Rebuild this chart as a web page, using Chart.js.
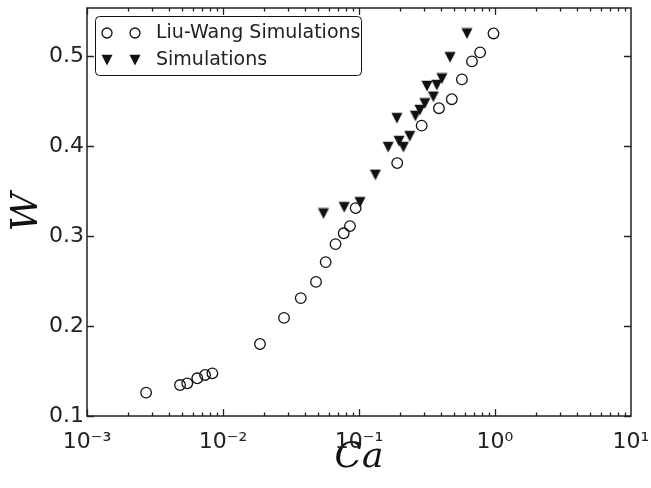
<!DOCTYPE html>
<html>
<head>
<meta charset="utf-8">
<script src="https://cdn.jsdelivr.net/npm/chart.js@4.4.0/dist/chart.umd.min.js"></script>
<style>
  html, body { margin: 0; padding: 0; background: #fff; }
</style>
</head>
<body>
<canvas id="myChart" width="651" height="488"></canvas>
<script>
// data
var liuWangCa = [0.00272, 0.00483, 0.00546, 0.00647, 0.00738, 0.00835, 0.0187, 0.0281, 0.0373, 0.0483, 0.0569, 0.0672, 0.0772, 0.0858, 0.0945, 0.191, 0.289, 0.387, 0.481, 0.571, 0.677, 0.777, 0.975];
var liuWangW  = [0.126, 0.1344, 0.1363, 0.1419, 0.1456, 0.1474, 0.180, 0.209, 0.231, 0.249, 0.271, 0.291, 0.303, 0.311, 0.331, 0.381, 0.4226, 0.442, 0.452, 0.474, 0.494, 0.504, 0.525];
var simCa = [0.0548, 0.0779, 0.1016, 0.132, 0.164, 0.197, 0.212, 0.236, 0.190, 0.260, 0.280, 0.305, 0.316, 0.352, 0.373, 0.407, 0.467, 0.622];
var simW  = [0.325, 0.332, 0.3375, 0.368, 0.3988, 0.4055, 0.3988, 0.411, 0.431, 0.4335, 0.440, 0.4474, 0.4667, 0.4548, 0.4678, 0.475, 0.4986, 0.525];

var xTicks = [0.001, 0.01, 0.1, 1, 10];
var xTickLabels = ['10\u207B\u00B3', '10\u207B\u00B2', '10\u207B\u00B9', '10\u2070', '10\u00B9'];
var yTicks = [0.1, 0.2, 0.3, 0.4, 0.5];
var yTickLabels = ['0.1', '0.2', '0.3', '0.4', '0.5'];

function toPoints(xs, ys) {
  return xs.map(function(v, i) { return { x: v, y: ys[i] }; });
}

// matplotlib-like 'v' marker
var triSize = 12;
var tri = document.createElement('canvas');
tri.width = triSize; tri.height = triSize;
var tctx = tri.getContext('2d');
tctx.fillStyle = '#111';
tctx.beginPath();
tctx.moveTo(0.5, 0.8);
tctx.lineTo(triSize - 0.5, 0.8);
tctx.lineTo(triSize / 2, triSize - 0.5);
tctx.closePath();
tctx.fill();

var frameTicks = {
  id: 'frameTicks',
  afterDatasetsDraw: function(chart) {
    var ctx = chart.ctx, a = chart.chartArea;
    var xs = chart.scales.x, ys = chart.scales.y;
    ctx.save();
    ctx.strokeStyle = '#222';
    ctx.lineWidth = 1.3;
    ctx.beginPath();
    for (var e = -3; e <= 0; e++) {
      for (var m = 1; m <= 9; m++) {
        var px = Math.round(xs.getPixelForValue(m * Math.pow(10, e))) + 0.5;
        var len = m === 1 ? 7 : 3.5;
        ctx.moveTo(px, a.bottom); ctx.lineTo(px, a.bottom - len);
        ctx.moveTo(px, a.top); ctx.lineTo(px, a.top + len);
      }
    }
    yTicks.forEach(function(v) {
      var py = Math.round(ys.getPixelForValue(v)) + 0.5;
      ctx.moveTo(a.left, py); ctx.lineTo(a.left + 7, py);
      ctx.moveTo(a.right, py); ctx.lineTo(a.right - 7, py);
    });
    ctx.stroke();
    ctx.lineWidth = 1.5;
    ctx.strokeRect(a.left, a.top, a.right - a.left, a.bottom - a.top);
    ctx.restore();
  }
};

var boxLegend = {
  id: 'boxLegend',
  afterDraw: function(chart) {
    var ctx = chart.ctx;
    var bx = 95.5, by = 16.5, bw = 266, bh = 59, r = 4;
    ctx.save();
    ctx.fillStyle = '#fff';
    ctx.strokeStyle = '#111';
    ctx.lineWidth = 1;
    ctx.beginPath();
    ctx.moveTo(bx + r, by);
    ctx.arcTo(bx + bw, by, bx + bw, by + bh, r);
    ctx.arcTo(bx + bw, by + bh, bx, by + bh, r);
    ctx.arcTo(bx, by + bh, bx, by, r);
    ctx.arcTo(bx, by, bx + bw, by, r);
    ctx.closePath();
    ctx.fill();
    ctx.stroke();

    var rows = [33, 60];
    var marks = [107, 135];
    marks.forEach(function(mx) {
      ctx.beginPath();
      ctx.lineWidth = 1.3;
      ctx.strokeStyle = '#111';
      ctx.arc(mx, rows[0], 5, 0, Math.PI * 2);
      ctx.stroke();
      ctx.drawImage(tri, mx - triSize / 2, rows[1] - triSize / 2);
    });
    ctx.fillStyle = '#222';
    ctx.font = '19px "DejaVu Sans"';
    ctx.textBaseline = 'middle';
    ctx.fillText(chart.data.datasets[0].label, 156, rows[0]);
    ctx.fillText(chart.data.datasets[1].label, 156, rows[1]);
    ctx.restore();
  }
};

var ctx = document.getElementById('myChart').getContext('2d');
var myChart = new Chart(ctx, {
  type: 'scatter',
  data: {
    datasets: [{
      label: 'Liu-Wang Simulations',
      data: toPoints(liuWangCa, liuWangW),
      pointStyle: 'circle',
      pointRadius: 5.3,
      pointBorderWidth: 1.3,
      borderColor: '#111',
      backgroundColor: 'rgba(0,0,0,0)'
    }, {
      label: 'Simulations',
      data: toPoints(simCa, simW),
      pointStyle: tri,
      borderColor: '#111',
      backgroundColor: '#111'
    }]
  },
  options: {
    responsive: false,
    animation: false,
    layout: { padding: { left: 0, right: 20, top: 8, bottom: 0 } },
    plugins: {
      legend: { display: false },
      tooltip: { enabled: false }
    },
    scales: {
      x: {
        type: 'logarithmic',
        min: 0.001,
        max: 10,
        grid: { display: false, drawTicks: false },
        border: { display: false },
        afterBuildTicks: function(scale) {
          scale.ticks = xTicks.map(function(v) { return { value: v }; });
        },
        afterFit: function(scale) {
          scale.height = 72;
          scale.paddingLeft = 0;
          scale.paddingRight = 0;
        },
        ticks: {
          autoSkip: false,
          maxRotation: 0,
          padding: 13,
          color: '#222',
          font: { family: '"DejaVu Sans"', size: 22 },
          callback: function(value, index) { return xTickLabels[index]; }
        },
        title: {
          display: true,
          text: 'Ca',
          color: '#111',
          font: { family: '"DejaVu Serif"', style: 'italic', size: 36, lineHeight: 1 },
          padding: { top: 0, bottom: 12 }
        }
      },
      y: {
        type: 'linear',
        min: 0.1,
        max: 0.5533,
        grid: { display: false, drawTicks: false },
        border: { display: false },
        afterBuildTicks: function(scale) {
          scale.ticks = yTicks.map(function(v) { return { value: v }; });
        },
        afterFit: function(scale) {
          scale.width = 87;
          scale.paddingTop = 0;
          scale.paddingBottom = 0;
        },
        ticks: {
          autoSkip: false,
          padding: 3,
          color: '#222',
          font: { family: '"DejaVu Sans"', size: 22 },
          callback: function(value, index) { return yTickLabels[index]; }
        },
        title: {
          display: true,
          text: 'W',
          color: '#111',
          font: { family: '"DejaVu Serif"', style: 'italic', size: 38, lineHeight: 1 },
          padding: { top: 8, bottom: 0 }
        }
      }
    }
  },
  plugins: [frameTicks, boxLegend]
});
</script>
</body>
</html>
